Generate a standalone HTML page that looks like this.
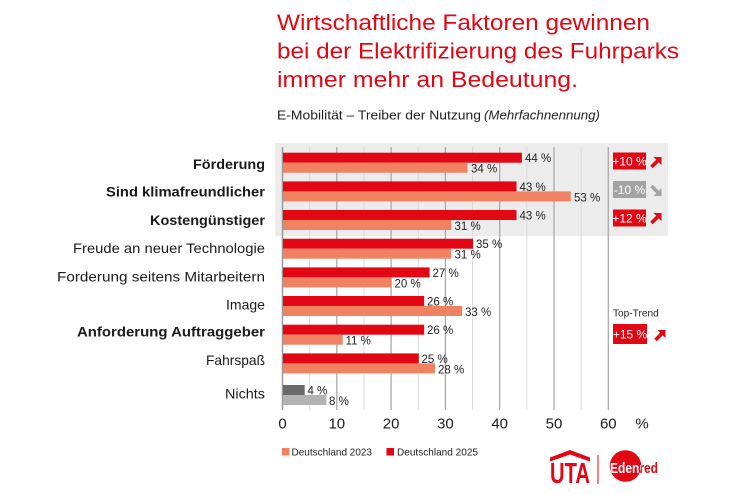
<!DOCTYPE html>
<html>
<head>
<meta charset="utf-8">
<style>
html,body{margin:0;padding:0;background:#fff;}
svg{display:block;}
text{font-family:"Liberation Sans",sans-serif;}
</style>
</head>
<body>
<svg width="740" height="494" viewBox="0 0 740 494" xmlns="http://www.w3.org/2000/svg">
<defs>
<clipPath id="circ"><circle cx="625.5" cy="466" r="15.8"/></clipPath>
</defs>
<rect width="740" height="494" fill="#fff"/>

<!-- Title -->
<g fill="#e30613" font-size="22">
<text x="277" y="30" textLength="373" lengthAdjust="spacingAndGlyphs">Wirtschaftliche Faktoren gewinnen</text>
<text x="277" y="58.5" textLength="402" lengthAdjust="spacingAndGlyphs">bei der Elektrifizierung des Fuhrparks</text>
<text x="277" y="87" textLength="301" lengthAdjust="spacingAndGlyphs">immer mehr an Bedeutung.</text>
</g>
<text x="277" y="119.5" font-size="12.5" fill="#222" textLength="204" lengthAdjust="spacingAndGlyphs">E-Mobilität – Treiber der Nutzung</text>
<text x="484" y="119.5" font-size="12.5" font-style="italic" fill="#222" textLength="116" lengthAdjust="spacingAndGlyphs">(Mehrfachnennung)</text>

<!-- gray highlight band -->
<rect x="275" y="143" width="393" height="93" fill="#ececec"/>

<!-- gridlines -->
<g stroke="#dadada" stroke-width="1">
<line x1="309.65" y1="147" x2="309.65" y2="410"/>
<line x1="363.95" y1="147" x2="363.95" y2="410"/>
<line x1="418.25" y1="147" x2="418.25" y2="410"/>
<line x1="472.55" y1="147" x2="472.55" y2="410"/>
<line x1="526.85" y1="147" x2="526.85" y2="410"/>
<line x1="581.15" y1="147" x2="581.15" y2="410"/>
</g>
<g stroke="#a9a9a9" stroke-width="1.3">
<line x1="336.8" y1="147" x2="336.8" y2="410"/>
<line x1="391.1" y1="147" x2="391.1" y2="410"/>
<line x1="445.4" y1="147" x2="445.4" y2="410"/>
<line x1="499.7" y1="147" x2="499.7" y2="410"/>
<line x1="554" y1="147" x2="554" y2="410"/>
<line x1="608.3" y1="147" x2="608.3" y2="410"/>
</g>
<line x1="282.5" y1="147" x2="282.5" y2="410" stroke="#999" stroke-width="1.5"/>

<!-- bars -->
<g>
<rect x="283" y="152.7" width="238.9" height="10" fill="#e30613"/>
<rect x="283" y="162.7" width="184.6" height="10" fill="#f08262"/>
<rect x="283" y="181.4" width="233.5" height="10" fill="#e30613"/>
<rect x="283" y="191.4" width="287.8" height="10" fill="#f08262"/>
<rect x="283" y="210" width="233.5" height="10" fill="#e30613"/>
<rect x="283" y="220" width="168.3" height="10" fill="#f08262"/>
<rect x="283" y="238.7" width="190.1" height="10" fill="#e30613"/>
<rect x="283" y="248.7" width="168.3" height="10" fill="#f08262"/>
<rect x="283" y="267.4" width="146.6" height="10" fill="#e30613"/>
<rect x="283" y="277.4" width="108.6" height="10" fill="#f08262"/>
<rect x="283" y="296" width="141.2" height="10" fill="#e30613"/>
<rect x="283" y="306" width="179.2" height="10" fill="#f08262"/>
<rect x="283" y="324.7" width="141.2" height="10" fill="#e30613"/>
<rect x="283" y="334.7" width="59.7" height="10" fill="#f08262"/>
<rect x="283" y="353.4" width="135.8" height="10" fill="#e30613"/>
<rect x="283" y="363.4" width="152" height="10" fill="#f08262"/>
<rect x="283" y="385" width="21.7" height="10" fill="#6b6b6b"/>
<rect x="283" y="395" width="43.4" height="10" fill="#b3b3b3"/>
</g>

<!-- value labels -->
<g font-size="11.5" fill="#222">
<text x="525" y="162">44 %</text>
<text x="471" y="172.5">34 %</text>
<text x="519.5" y="191">43 %</text>
<text x="574" y="201.5">53 %</text>
<text x="519.5" y="219.5">43 %</text>
<text x="454.5" y="230">31 %</text>
<text x="476" y="248">35 %</text>
<text x="454.5" y="258.5">31 %</text>
<text x="432.5" y="277">27 %</text>
<text x="394.5" y="287.5">20 %</text>
<text x="427" y="305.5">26 %</text>
<text x="465" y="316">33 %</text>
<text x="427" y="334">26 %</text>
<text x="345.5" y="344.5">11 %</text>
<text x="421.5" y="363">25 %</text>
<text x="438" y="373.5">28 %</text>
<text x="307.5" y="394.5">4 %</text>
<text x="329" y="405">8 %</text>
</g>

<!-- category labels -->
<g font-size="14" fill="#1a1a1a">
<text x="193" y="169" font-weight="bold" textLength="72" lengthAdjust="spacingAndGlyphs">Förderung</text>
<text x="106" y="196.7" font-weight="bold" textLength="159" lengthAdjust="spacingAndGlyphs">Sind klimafreundlicher</text>
<text x="150" y="225" font-weight="bold" textLength="115" lengthAdjust="spacingAndGlyphs">Kostengünstiger</text>
<text x="73" y="253" textLength="192" lengthAdjust="spacingAndGlyphs">Freude an neuer Technologie</text>
<text x="57" y="281.7" textLength="208" lengthAdjust="spacingAndGlyphs">Forderung seitens Mitarbeitern</text>
<text x="226" y="309.3" textLength="39" lengthAdjust="spacingAndGlyphs">Image</text>
<text x="77" y="336.7" font-weight="bold" textLength="188" lengthAdjust="spacingAndGlyphs">Anforderung Auftraggeber</text>
<text x="206" y="365" textLength="59" lengthAdjust="spacingAndGlyphs">Fahrspaß</text>
<text x="225" y="398.3" textLength="40" lengthAdjust="spacingAndGlyphs">Nichts</text>
</g>

<!-- x tick labels -->
<g font-size="15" fill="#1a1a1a" text-anchor="middle">
<text x="282.5" y="428.5">0</text>
<text x="336.8" y="428.5">10</text>
<text x="391.1" y="428.5">20</text>
<text x="445.4" y="428.5">30</text>
<text x="499.7" y="428.5">40</text>
<text x="554" y="428.5">50</text>
<text x="608.3" y="428.5">60</text>
<text x="642" y="428.5">%</text>
</g>

<!-- badges -->
<rect x="613" y="152.5" width="33" height="17" fill="#e30613"/>
<text x="629.5" y="165.5" font-size="12" fill="#fff" text-anchor="middle">+10 %</text>
<rect x="613" y="181" width="33" height="17" fill="#a3a3a3"/>
<text x="629.5" y="194" font-size="12" fill="#fff" text-anchor="middle">-10 %</text>
<rect x="613" y="209.5" width="33" height="17" fill="#e30613"/>
<text x="629.5" y="222.5" font-size="12" fill="#fff" text-anchor="middle">+12 %</text>

<text x="613" y="316.5" font-size="10" fill="#222" textLength="45.7" lengthAdjust="spacingAndGlyphs">Top-Trend</text>
<rect x="613" y="324" width="34" height="20" fill="#e30613"/>
<text x="630" y="338.5" font-size="12" fill="#fff" text-anchor="middle">+15 %</text>

<!-- arrows -->
<g transform="translate(650,157)" fill="#e30613">
<polygon points="3.5,0 11.5,0 11.5,8"/>
<line x1="1.5" y1="10" x2="8" y2="3.5" stroke="#e30613" stroke-width="3.6"/>
</g>
<g transform="translate(650,184)" fill="#a3a3a3">
<polygon points="3.5,12 11.5,12 11.5,4"/>
<line x1="1.5" y1="2" x2="8" y2="8.5" stroke="#a3a3a3" stroke-width="3.6"/>
</g>
<g transform="translate(650,213)" fill="#e30613">
<polygon points="3.5,0 11.5,0 11.5,8"/>
<line x1="1.5" y1="10" x2="8" y2="3.5" stroke="#e30613" stroke-width="3.6"/>
</g>
<g transform="translate(654,330)" fill="#e30613">
<polygon points="3.5,0 11.5,0 11.5,8"/>
<line x1="1.5" y1="10" x2="8" y2="3.5" stroke="#e30613" stroke-width="3.6"/>
</g>

<!-- legend -->
<rect x="282" y="448" width="7.5" height="7.5" fill="#f08262"/>
<text x="291.5" y="455.5" font-size="10.5" fill="#222" textLength="80.5" lengthAdjust="spacingAndGlyphs">Deutschland 2023</text>
<rect x="386.5" y="448" width="7.5" height="7.5" fill="#e30613"/>
<text x="397" y="455.5" font-size="10.5" fill="#222" textLength="81" lengthAdjust="spacingAndGlyphs">Deutschland 2025</text>

<!-- UTA logo -->
<polygon points="550,457.5 570,450 590,457.5 590,461.5 570,454.5 550,461.5" fill="#e30613"/>
<text x="550" y="483" font-size="29" font-weight="bold" fill="#e30613" textLength="40" lengthAdjust="spacingAndGlyphs">UTA</text>
<line x1="598" y1="455" x2="598" y2="484" stroke="#e30613" stroke-width="1"/>

<!-- Edenred logo -->
<circle cx="625.5" cy="466" r="15.8" fill="#e30613"/>
<text x="610" y="473" font-size="15" font-weight="bold" fill="#e30613" textLength="48" lengthAdjust="spacingAndGlyphs">Edenred</text>
<g clip-path="url(#circ)">
<text x="610" y="473" font-size="15" font-weight="bold" fill="#fff" textLength="48" lengthAdjust="spacingAndGlyphs">Edenred</text>
</g>
</svg>
</body>
</html>
